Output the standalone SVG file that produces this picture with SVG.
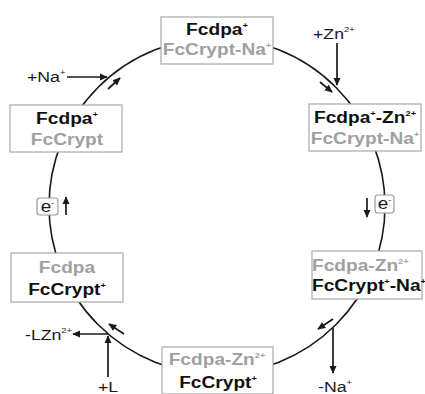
<svg xmlns="http://www.w3.org/2000/svg" width="425" height="394" viewBox="0 0 425 394">
<defs>
<style>
.box{fill:#fff;stroke:#a8a8a8;stroke-width:1.2}
.ebox{fill:#fff;stroke:#9a9a9a;stroke-width:1.2}
.t{font-family:"Liberation Sans",Arial,sans-serif;font-size:16.5px;font-weight:bold}
.k{fill:#111}
.g{fill:#a0a0a0}
.lab{font-family:"Liberation Sans",Arial,sans-serif;font-size:15px;fill:#1a1a1a}
.sup{font-size:8px}
.ring{fill:none;stroke:#1a1a1a;stroke-width:1.6}
.arr{fill:none;stroke:#1a1a1a;stroke-width:1.7;marker-end:url(#ah)}
</style>
<marker id="ah" viewBox="0 0 10 10" refX="9" refY="5" markerWidth="8" markerHeight="8" markerUnits="userSpaceOnUse" orient="auto">
<path d="M0,0.5 L10,5 L0,9.5 z" fill="#1a1a1a"/>
</marker>
</defs>
<rect width="425" height="394" fill="#fff"/>

<g id="connectors">
<circle class="ring" cx="217" cy="206" r="168"/>
<line class="arr" x1="67" y1="77" x2="107" y2="77"/>
<line class="arr" x1="108" y1="89" x2="120" y2="78"/>
<line class="arr" x1="337" y1="43" x2="337" y2="85"/>
<line class="arr" x1="320" y1="82" x2="332" y2="92"/>
<line class="arr" x1="367" y1="198" x2="367" y2="217"/>
<line class="arr" x1="333" y1="328" x2="333" y2="373"/>
<line class="arr" x1="333" y1="319" x2="318" y2="329"/>
<line class="arr" x1="108" y1="377" x2="108" y2="336"/>
<line class="arr" x1="108" y1="334" x2="73" y2="334"/>
<line class="arr" x1="124" y1="334" x2="109" y2="324"/>
<line class="arr" x1="66" y1="215" x2="66" y2="197"/>
</g>

<g id="node-top">
<rect class="box" x="161" y="17" width="112" height="47"/>
<text class="t k" text-anchor="middle" transform="translate(217 35) scale(1.16 1)">Fcdpa<tspan class="sup" dy="-7">+</tspan></text>
<text class="t g" text-anchor="middle" transform="translate(217 55) scale(1.16 1)">FcCrypt-Na<tspan class="sup" dy="-7">+</tspan></text>
</g>

<g id="node-right-top">
<rect class="box" x="309" y="104" width="112" height="47"/>
<text class="t k" text-anchor="middle" transform="translate(365 123) scale(1.16 1)">Fcdpa<tspan class="sup" dy="-7">+</tspan><tspan dy="7">-Zn</tspan><tspan class="sup" dy="-7">2+</tspan></text>
<text class="t g" text-anchor="middle" transform="translate(365 144) scale(1.16 1)">FcCrypt-Na<tspan class="sup" dy="-7">+</tspan></text>
</g>

<g id="node-right-bottom">
<rect class="box" x="312" y="251" width="110" height="48"/>
<text class="t g" transform="translate(312 271) scale(1.16 1)">Fcdpa-Zn<tspan class="sup" dy="-7">2+</tspan></text>
<text class="t k" transform="translate(312 291) scale(1.16 1)">FcCrypt<tspan class="sup" dy="-7">+</tspan><tspan dy="7">-Na</tspan><tspan class="sup" dy="-7">+</tspan></text>
</g>

<g id="node-bottom">
<rect class="box" x="162" y="347" width="111" height="47"/>
<text class="t g" text-anchor="middle" transform="translate(217 365) scale(1.16 1)">Fcdpa-Zn<tspan class="sup" dy="-7">2+</tspan></text>
<text class="t k" text-anchor="middle" transform="translate(218 388) scale(1.16 1)">FcCrypt<tspan class="sup" dy="-7">+</tspan></text>
</g>

<g id="node-left-bottom">
<rect class="box" x="11" y="253" width="112" height="49"/>
<text class="t g" text-anchor="middle" transform="translate(67 273) scale(1.16 1)">Fcdpa</text>
<text class="t k" text-anchor="middle" transform="translate(67 295) scale(1.16 1)">FcCrypt<tspan class="sup" dy="-7">+</tspan></text>
</g>

<g id="node-left-top">
<rect class="box" x="10" y="105" width="112" height="47"/>
<text class="t k" text-anchor="middle" transform="translate(67 124) scale(1.16 1)">Fcdpa<tspan class="sup" dy="-7">+</tspan></text>
<text class="t g" text-anchor="middle" transform="translate(67 145) scale(1.16 1)">FcCrypt</text>
</g>

<g id="e-left">
<rect class="ebox" x="37" y="198" width="21" height="17" rx="3"/>
<text class="lab" text-anchor="middle" transform="translate(47.5 212) scale(1.18 1)" style="font-size:16px">e<tspan class="sup" dy="-7">-</tspan></text>
</g>
<g id="e-right">
<rect class="ebox" x="375" y="195" width="19" height="18" rx="3"/>
<text class="lab" text-anchor="middle" transform="translate(384.5 209) scale(1.18 1)" style="font-size:16px">e<tspan class="sup" dy="-7">-</tspan></text>
</g>

<g id="labels">
<text class="lab" transform="translate(27 82) scale(1.18 1)">+Na<tspan class="sup" dy="-7">+</tspan></text>
<text class="lab" transform="translate(313 39) scale(1.18 1)">+Zn<tspan class="sup" dy="-7">2+</tspan></text>
<text class="lab" transform="translate(318 392) scale(1.18 1)">-Na<tspan class="sup" dy="-7">+</tspan></text>
<text class="lab" transform="translate(25 340) scale(1.18 1)">-LZn<tspan class="sup" dy="-7">2+</tspan></text>
<text class="lab" text-anchor="middle" transform="translate(108 392) scale(1.18 1)">+L</text>
</g>
</svg>
